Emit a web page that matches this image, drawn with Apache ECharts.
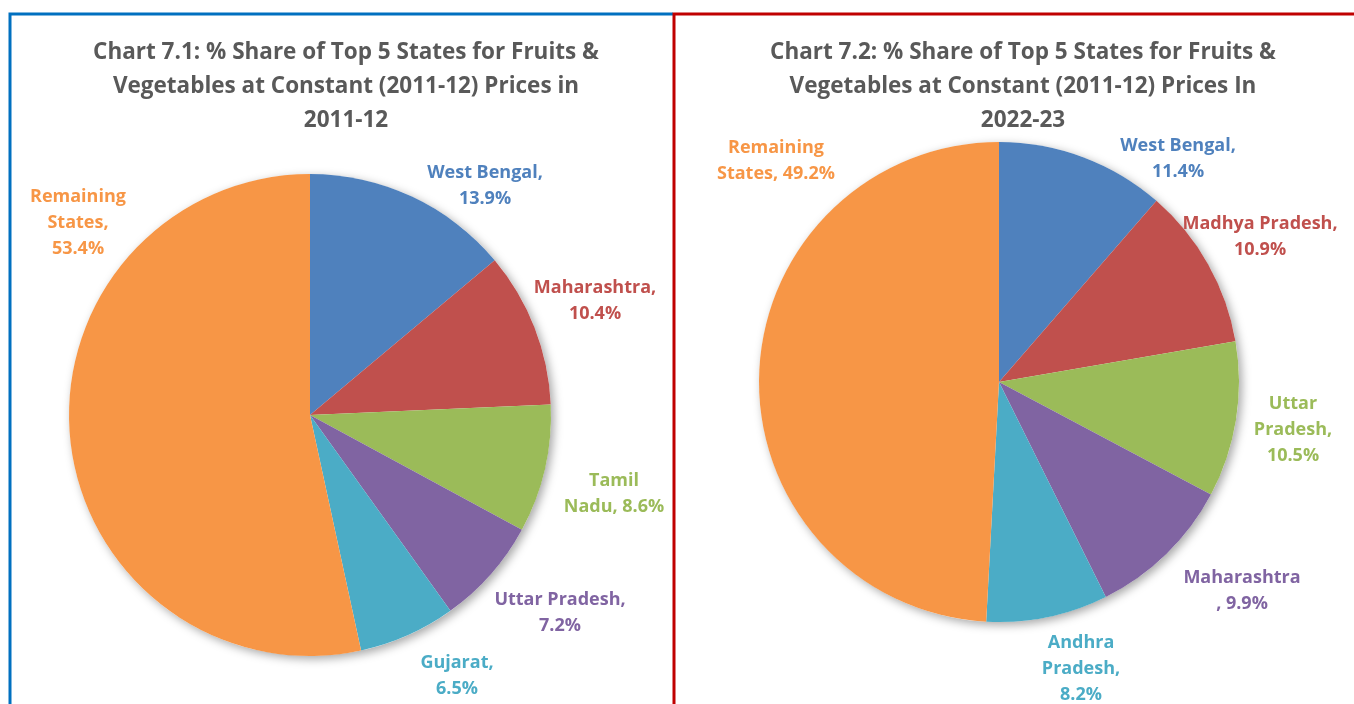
<!DOCTYPE html>
<html>
<head>
<meta charset="utf-8">
<script src="https://cdn.jsdelivr.net/npm/echarts@6/dist/echarts.min.js"></script>
<style>
  html, body { margin: 0; padding: 0; background: #fff; }
  #chart { width: 1354px; height: 704px; }
</style>
</head>
<body>
<div id="chart"></div>
<script>
// chart 7.1 - 2011-12
const statesA = ['West Bengal', 'Maharashtra', 'Tamil Nadu', 'Uttar Pradesh', 'Gujarat', 'Remaining States'];
const shareA = [13.9, 10.4, 8.6, 7.2, 6.5, 53.4];

// chart 7.2 - 2022-23
const statesB = ['West Bengal', 'Madhya Pradesh', 'Uttar Pradesh', 'Maharashtra', 'Andhra Pradesh', 'Remaining States'];
const shareB = [11.4, 10.9, 10.5, 9.9, 8.2, 49.2];

const titleA = 'Chart 7.1: % Share of Top 5 States for Fruits &\nVegetables at Constant (2011-12) Prices in\n2011-12';
const titleB = 'Chart 7.2: % Share of Top 5 States for Fruits &\nVegetables at Constant (2011-12) Prices In\n2022-23';

const colorsA = ['#4F81BD', '#C0504D', '#9BBB59', '#8064A2', '#4BACC6', '#F79646'];
const colorsB = ['#4F81BD', '#C0504D', '#9BBB59', '#8064A2', '#4BACC6', '#F79646'];

// how each label wraps, like excel did it: {n} name, {N} name split on spaces, {v} value
const wrapA = ['{n},\n{v}', '{n},\n{v}', '{N}, {v}', '{n},\n{v}', '{n},\n{v}', '{N},\n{v}'];
const wrapB = ['{n},\n{v}', '{n},\n{v}', '{N},\n{v}', '{n}\n, {v}', '{N},\n{v}', '{N}, {v}'];

// label anchor points (centre of text block)
const spotsA = [[485, 186], [595, 301], [614, 494], [560, 613], [457, 676], [78, 223]];
const spotsB = [[1178, 159], [1260, 237], [1293, 430], [1242, 591], [1081, 669], [776, 161]];

const FONT = '"Open Sans"';

const chart = echarts.init(document.getElementById('chart'));

function makeLabel(tpl, name, value) {
    return tpl.replace('{n}', name)
        .replace('{N}', name.split(' ').join('\n'))
        .replace('{v}', value.toFixed(1) + '%');
}

function pieSeries(names, values, colors, wrap, spots, center, radius) {
    return {
        type: 'pie',
        center: center,
        radius: radius,
        startAngle: 90,
        clockwise: true,
        avoidLabelOverlap: false,
        animation: false,
        z: 3,
        data: names.map((n, i) => ({
            name: n,
            value: values[i],
            itemStyle: { color: colors[i] },
            label: { color: colors[i] }
        })),
        itemStyle: { borderWidth: 0 },
        label: {
            show: true,
            position: 'outside',
            fontFamily: FONT,
            fontWeight: 'bold',
            fontSize: 18,
            lineHeight: 26,
            align: 'center',
            formatter: (p) => makeLabel(wrap[p.dataIndex], p.name, p.value)
        },
        labelLine: { show: false },
        labelLayout: (p) => ({
            x: spots[p.dataIndex][0],
            y: spots[p.dataIndex][1],
            align: 'center',
            verticalAlign: 'middle'
        }),
        emphasis: { disabled: true }
    };
}

// plain disc underneath for the soft drop shadow
function shadowSeries(center, radius) {
    return {
        type: 'pie',
        center: center,
        radius: radius,
        silent: true,
        animation: false,
        z: 1,
        label: { show: false },
        labelLine: { show: false },
        data: [{ value: 1 }],
        itemStyle: {
            color: '#ffffff',
            shadowBlur: 10,
            shadowOffsetX: 3,
            shadowOffsetY: 3,
            shadowColor: 'rgba(0,0,0,0.35)'
        }
    };
}

let option = {
    backgroundColor: '#ffffff',
    title: [{
        text: titleA,
        left: 341,
        top: 31,
        textAlign: 'center',
        textStyle: { fontFamily: FONT, fontWeight: 'bold', fontSize: 22.5, lineHeight: 34, color: '#595959' }
    }, {
        text: titleB,
        left: 1018,
        top: 31,
        textAlign: 'center',
        textStyle: { fontFamily: FONT, fontWeight: 'bold', fontSize: 22.5, lineHeight: 34, color: '#595959' }
    }],
    graphic: [{
        type: 'polyline',
        z: 10,
        shape: { points: [[10, 760], [10, 14], [673, 14]] },
        style: { stroke: '#0070C0', lineWidth: 3, fill: null }
    }, {
        type: 'polyline',
        z: 11,
        shape: { points: [[674, 760], [674, 14], [1360, 14]] },
        style: { stroke: '#C00000', lineWidth: 3, fill: null }
    }],
    series: [
        shadowSeries([310, 415], 241),
        pieSeries(statesA, shareA, colorsA, wrapA, spotsA, [310, 415], 241),
        shadowSeries([999, 382], 240),
        pieSeries(statesB, shareB, colorsB, wrapB, spotsB, [999, 382], 240)
    ]
};

if (option && typeof option === 'object') {
    chart.setOption(option);
}
</script>
</body>
</html>
